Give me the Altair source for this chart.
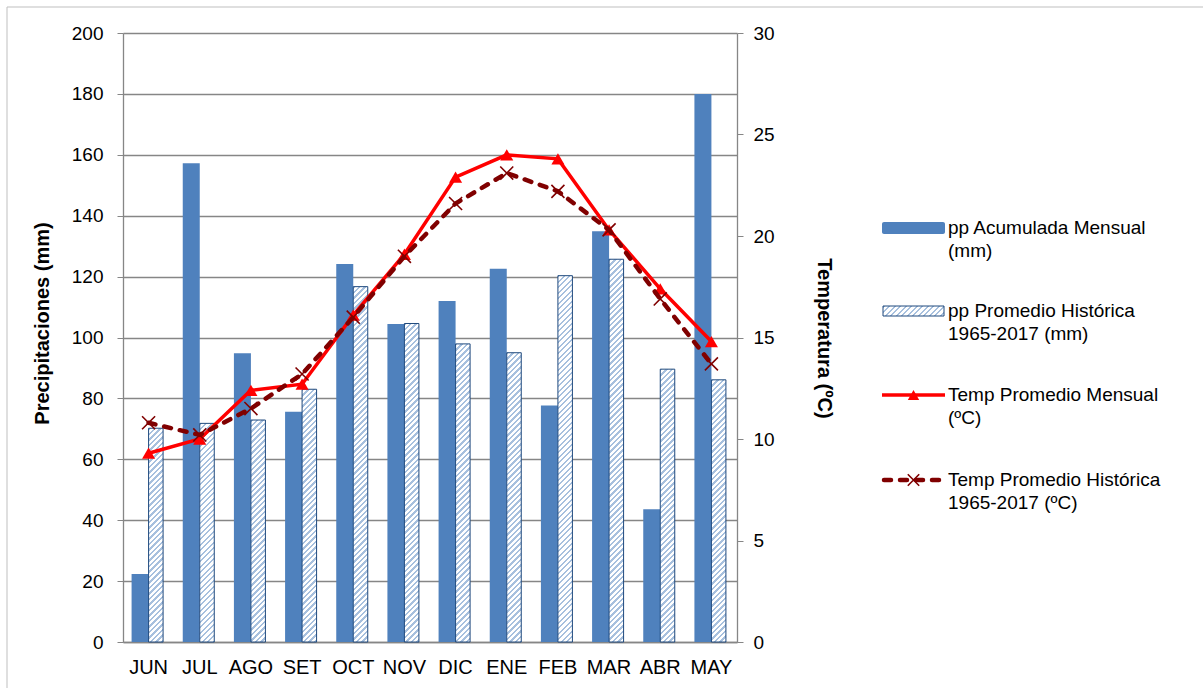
import altair as alt

# ---------------- data ----------------
months = ["JUN", "JUL", "AGO", "SET", "OCT", "NOV", "DIC", "ENE", "FEB", "MAR", "ABR", "MAY"]
pp_act = [22.3, 157.2, 94.8, 75.6, 124.1, 104.4, 112.0, 122.6, 77.7, 134.9, 43.6, 180.0]
pp_hist = [70.2, 71.8, 72.9, 83.0, 116.7, 104.6, 97.9, 95.0, 120.3, 125.7, 89.6, 86.1]
t_act = [9.3, 10.0, 12.4, 12.7, 16.1, 19.1, 22.9, 24.0, 23.8, 20.3, 17.4, 14.8]
t_hist = [10.8, 10.2, 11.5, 13.2, 16.0, 19.0, 21.6, 23.1, 22.2, 20.3, 16.9, 13.7]
pp_ticks = [0, 20, 40, 60, 80, 100, 120, 140, 160, 180, 200]
t_ticks = [0, 5, 10, 15, 20, 25, 30]

legend_labels = [
    ["pp Acumulada Mensual", "(mm)"],
    ["pp Promedio Histórica", "1965-2017 (mm)"],
    ["Temp Promedio Mensual", "(ºC)"],
    ["Temp Promedio Histórica", "1965-2017 (ºC)"],
]

# ---------------- layout / style ----------------
W, H = 614, 609
FONT = "Liberation Sans"
GRID = "#868686"
DARK = "#4f81bd"
EDGE = "#1f497d"
RED = "#ff0000"
MAROON = "#800000"
HB_W = 14.5  # hatched bar width
DB_W = 17    # solid bar width


def hatch(w, h, p=5.5, frac=0.42, c_bg="#ffffff", c_st="#a7c0de"):
    """diagonal (/) stripes as a linear gradient in bounding-box units"""
    h = max(h, 1.0)
    a, b = 1.0 / h, 1.0 / w
    c = (a + b) / (a * a + b * b)
    L = w + h
    stops = []
    k = 0
    while k * p < L:
        t0 = k * p / L
        t1 = min((k * p + frac * p) / L, 1.0)
        t2 = min((k + 1) * p / L, 1.0)
        stops += [
            {"offset": round(t0, 5), "color": c_st},
            {"offset": round(t1, 5), "color": c_st},
            {"offset": round(t1, 5), "color": c_bg},
            {"offset": round(t2, 5), "color": c_bg},
        ]
        k += 1
    return {"gradient": "linear", "x1": 0, "y1": 0, "x2": c * a, "y2": c * b, "stops": stops}


records = []
for m, a, b, ta, th in zip(months, pp_act, pp_hist, t_act, t_hist):
    records.append({
        "mes": m, "pp_act": a, "pp_hist": b, "t_act": ta, "t_hist": th,
        "grad": hatch(HB_W, b / 200.0 * H),
    })
data = alt.Data(values=records)

x_enc = alt.X(
    "mes:N", sort=months,
    scale=alt.Scale(domain=months, paddingInner=0, paddingOuter=0),
    axis=alt.Axis(title=None, labelAngle=0, ticks=False, tickSize=0, labelPadding=25,
                  labelBaseline="middle", domainColor=GRID, domainWidth=1.3,
                  labelFont=FONT, labelFontSize=20, labelColor="black", grid=False),
)

pp_scale = alt.Scale(domain=[0, 200], nice=False, zero=True)
t_scale = alt.Scale(domain=[0, 30], nice=False, zero=True)

base = alt.Chart(data)

bar_act = base.mark_bar(width=DB_W, xOffset=-DB_W / 2, color=DARK).encode(
    x=x_enc,
    y=alt.Y("pp_act:Q", scale=pp_scale, title="Precipitaciones (mm)",
            axis=alt.Axis(values=pp_ticks, grid=True, gridColor=GRID, gridWidth=1.3,
                          domainColor=GRID, domainWidth=1.3, tickColor=GRID, tickSize=6,
                          labelPadding=14, labelFont=FONT, labelFontSize=19, labelColor="black",
                          titleFont=FONT, titleFontSize=20,
                          titleFontWeight="bold", titleColor="black",
                          titleAngle=270, titleAlign="center", titleBaseline="middle",
                          titleX=-81, titleY=290)),
)

bar_hist = base.mark_bar(width=HB_W, xOffset=HB_W / 2, stroke=EDGE, strokeWidth=1).encode(
    x=x_enc,
    y=alt.Y("pp_hist:Q", scale=pp_scale),
    fill=alt.Fill("grad:N", scale=None),
)

line_act = base.mark_line(color=RED, strokeWidth=3.5).encode(
    x=x_enc,
    y=alt.Y("t_act:Q", scale=t_scale, title="Temperatura (ºC)",
            axis=alt.Axis(orient="right", values=t_ticks, grid=False,
                          domainColor=GRID, domainWidth=1.3, tickColor=GRID, tickSize=6,
                          labelPadding=10, labelFont=FONT, labelFontSize=19, labelColor="black",
                          titleFont=FONT, titleFontSize=20,
                          titleFontWeight="bold", titleColor="black",
                          titleAngle=90, titleAlign="center", titleBaseline="middle",
                          titleX=86, titleY=305)),
)
pts_act = base.mark_point(shape="triangle-up", filled=True, color=RED, size=170, opacity=1).encode(
    x=x_enc, y=alt.Y("t_act:Q", scale=t_scale),
)
line_hist = base.mark_line(color=MAROON, strokeWidth=4.5, strokeDash=[7, 9], strokeCap="round").encode(
    x=x_enc, y=alt.Y("t_hist:Q", scale=t_scale),
)
XPATH = "M-1,-1L1,1M1,-1L-1,1"
pts_hist = base.mark_point(shape=XPATH, filled=False, color=MAROON, size=170, strokeWidth=1.6,
                           opacity=1).encode(
    x=x_enc, y=alt.Y("t_hist:Q", scale=t_scale),
)

# ---------------- legend + frame (drawn in the margins, no y scale used) ----------------
L0 = 882 - 123
L1 = 945 - 123
LC = (L0 + L1) / 2
TX = 948 - 123
row_y = [228, 311, 395, 480]

one = alt.Data(values=[{"k": 0}])
deco = []
deco.append(alt.Chart(one).mark_rect(fill=None, stroke="#bfbfbf", strokeWidth=1).encode(
    x=alt.value(7 - 123), x2=alt.value(1210 - 123), y=alt.value(7 - 33), y2=alt.value(700 - 33)))
for lines, ry in zip(legend_labels, row_y):
    deco.append(alt.Chart(one).mark_text(
        align="left", baseline="middle", font=FONT, fontSize=19, color="black",
        lineHeight=23, text=lines,
    ).encode(x=alt.value(TX), y=alt.value(ry - 33)))

deco.append(alt.Chart(one).mark_rect(color=DARK, cornerRadius=2).encode(
    x=alt.value(L0), x2=alt.value(L1), y=alt.value(222 - 33), y2=alt.value(234 - 33)))
deco.append(alt.Chart(one).mark_rect(fill=hatch(L1 - L0 - 2, 10), stroke=EDGE, strokeWidth=1).encode(
    x=alt.value(L0 + 1), x2=alt.value(L1 - 1), y=alt.value(306 - 33), y2=alt.value(316 - 33)))
deco.append(alt.Chart(one).mark_rule(color=RED, strokeWidth=3.5).encode(
    x=alt.value(L0), x2=alt.value(L1), y=alt.value(395 - 33)))
deco.append(alt.Chart(one).mark_point(shape="triangle-up", filled=True, color=RED, size=130,
                                      opacity=1).encode(x=alt.value(LC), y=alt.value(395 - 33)))
deco.append(alt.Chart(one).mark_rule(color=MAROON, strokeWidth=4.5, strokeDash=[7, 9],
                                     strokeCap="round").encode(
    x=alt.value(L0 + 2), x2=alt.value(L1), y=alt.value(480 - 33)))
deco.append(alt.Chart(one).mark_point(shape=XPATH, filled=False, color=MAROON, size=130,
                                      strokeWidth=1.6, opacity=1).encode(
    x=alt.value(LC), y=alt.value(480 - 33)))

left_side = alt.layer(bar_act, bar_hist, *deco)
right_side = alt.layer(line_act, pts_act, line_hist, pts_hist)

chart = alt.layer(left_side, right_side).resolve_scale(y="independent").properties(
    width=W, height=H,
    padding={"left": 123, "top": 33, "right": 1203 - 123 - W, "bottom": 688 - 33 - H},
    autosize=alt.AutoSizeParams(type="none"),
    background="white",
).configure_view(stroke=None)

chart.save("out.html", embed_options={"renderer": "svg", "actions": False})
